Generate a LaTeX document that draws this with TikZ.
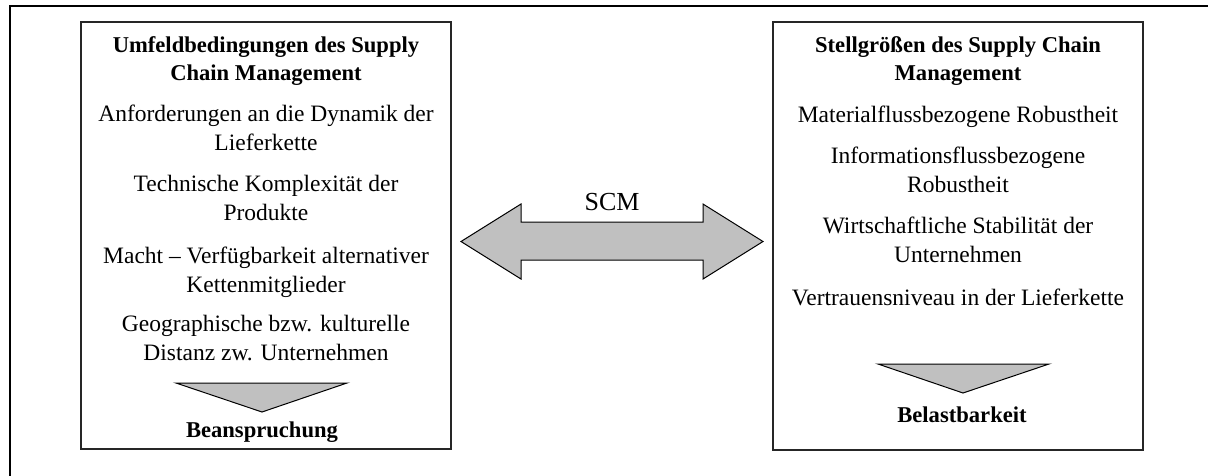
\documentclass[tikz,border=0pt]{standalone}
\usepackage{fontspec}
\setmainfont{Liberation Serif}
\definecolor{wedgegray}{HTML}{C0C0C0}
\begin{document}
\begin{tikzpicture}[x=1pt,y=-1pt,
  frame/.style={draw=black, line width=1.4pt},
  panel/.style={draw=black!85, line width=1.4pt, fill=white, inner sep=0pt},
  txt/.style={align=center, inner sep=0pt, anchor=base, font=\fontsize{23.5}{28.5}\selectfont},
  ttl/.style={txt, font=\fontsize{22.6}{28}\selectfont\bfseries},
  wedge/.style={draw=black, line width=1pt, fill=wedgegray, line join=miter}
]
\useasboundingbox (0,0) rectangle (1208,475);
\clip (0,0) rectangle (1208,475);

% outer frame, running off the page at right and bottom
\draw[frame] (10,500) -- (10,6) -- (1230,6);

% the two panels
\node[panel, minimum width=370, minimum height=427] (lbox) at (266,235.5) {};
\node[panel, minimum width=370, minimum height=428] (rbox) at (958,236) {};

% left panel: environmental conditions (base = last line's baseline)
\node[ttl] (ltitle) at (266,80) {Umfeldbedingungen des Supply\\Chain Management};
\node[txt] (l1) at (266,150) {Anforderungen an die Dynamik der\\Lieferkette};
\node[txt] (l2) at (266,220) {Technische Komplexität der\\Produkte};
\node[txt] (l3) at (266,292) {Macht – Verfügbarkeit alternativer\\Kettenmitglieder};
\node[txt] (l4) at (266,360) {Geographische bzw. kulturelle\\Distanz zw. Unternehmen};
\draw[wedge] (176,383) -- (347,383) -- (262,412) -- cycle;
\node[ttl] (lres) at (262,437) {Beanspruchung};

% right panel: control variables
\node[ttl] (rtitle) at (958,80) {Stellgrößen des Supply Chain\\Management};
\node[txt] (r1) at (958,122) {Materialflussbezogene Robustheit};
\node[txt] (r2) at (958,192) {Informationsflussbezogene\\Robustheit};
\node[txt] (r3) at (958,262) {Wirtschaftliche Stabilität der\\Unternehmen};
\node[txt] (r4) at (958,305) {Vertrauensniveau in der Lieferkette};
\draw[wedge] (878,364) -- (1049,364) -- (963,393) -- cycle;
\node[ttl] (rres) at (962,422) {Belastbarkeit};

% double block arrow between the panels
\draw[wedge] (461,241.5) -- (521,204) -- (521,222) -- (703,222) -- (703,204)
  -- (763,241.5) -- (703,279) -- (703,260) -- (521,260) -- (521,279) -- cycle;
\node[txt, font=\fontsize{26}{30}\selectfont] (scm) at (612,210) {SCM};
\end{tikzpicture}
\end{document}
